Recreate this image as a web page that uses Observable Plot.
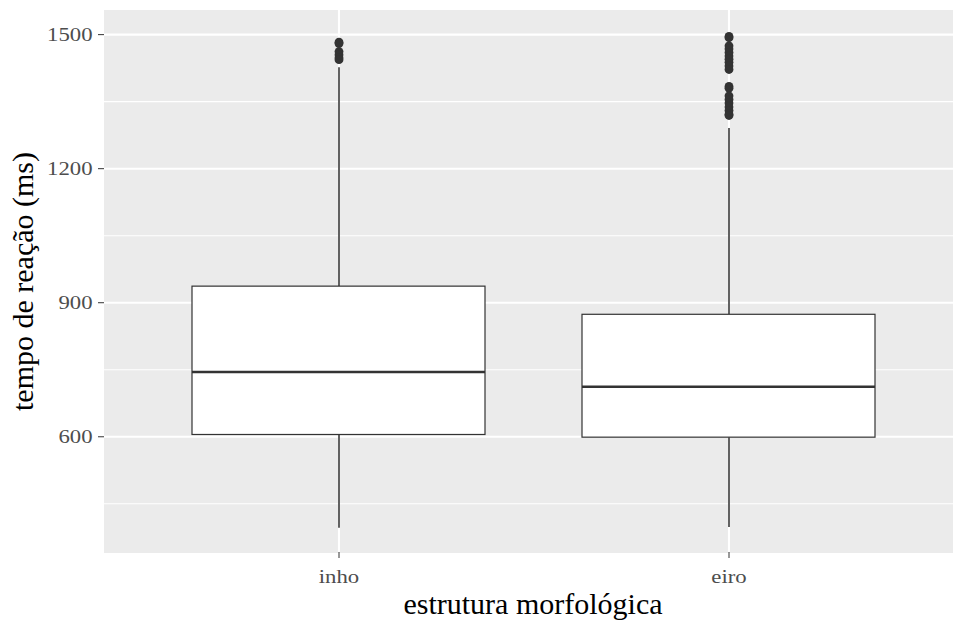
<!DOCTYPE html>
<html>
<head>
<meta charset="utf-8">
<script src="https://cdn.jsdelivr.net/npm/d3@7"></script>
<script src="https://cdn.jsdelivr.net/npm/@observablehq/plot@0.6"></script>
<style>
  html, body { margin: 0; padding: 0; background: white; }
</style>
</head>
<body>
<div id="chart"></div>
<script>
// ---- data ----
const categories = ["inho", "eiro"];
const q1 = [604, 598];
const medians = [745, 712];
const q3 = [936, 873];
const whiskerLow = [395, 397];
const whiskerHigh = [1426, 1290];
const outliersInho = [1483, 1480, 1462, 1455, 1448, 1444];
const outliersEiro = [1496, 1493, 1475, 1468, 1460, 1452, 1445, 1438, 1430, 1422,
                      1384, 1380, 1363, 1355, 1347, 1338, 1330, 1322, 1319];
const majorTicks = [600, 900, 1200, 1500];
const minorTicks = [450, 750, 1050, 1350];
const yDomain = [341, 1554];
const xTitle = "estrutura morfológica";
const yTitle = "tempo de reação (ms)";

// ---- tables built from the arrays ----
const stats = categories.map((c, i) => ({
  cat: c, q1: q1[i], median: medians[i], q3: q3[i], lo: whiskerLow[i], hi: whiskerHigh[i]
}));
const outliers = [
  ...outliersInho.map(v => ({cat: "inho", v})),
  ...outliersEiro.map(v => ({cat: "eiro", v}))
];

const FONT = "'Liberation Serif', 'Times New Roman', serif";
const dark = "#333333";

const chart = Plot.plot({
  width: 953,
  height: 621,
  marginLeft: 104,
  marginRight: 0,
  marginTop: 10,
  marginBottom: 69,
  style: {fontFamily: FONT, background: "white"},
  x: {type: "band", domain: categories, range: [104, 963.4], paddingInner: 0.25, paddingOuter: 0.225, axis: null},
  y: {domain: yDomain, axis: null},
  marks: [
    Plot.frame({fill: "#ebebeb", stroke: "#ebebeb"}),
    Plot.ruleY(minorTicks, {stroke: "white", strokeWidth: 1.1}),
    Plot.ruleY(majorTicks, {stroke: "white", strokeWidth: 2.1}),
    Plot.ruleX(categories, {stroke: "white", strokeWidth: 2.1}),
    Plot.ruleX(stats, {x: "cat", y1: "lo", y2: "q1", stroke: "#3a3a3a", strokeWidth: 1.6}),
    Plot.ruleX(stats, {x: "cat", y1: "q3", y2: "hi", stroke: "#3a3a3a", strokeWidth: 1.6}),
    Plot.barY(stats, {x: "cat", y1: "q1", y2: "q3", fill: "white", stroke: dark, strokeWidth: 1.2}),
    Plot.tickY(stats, {x: "cat", y: "median", stroke: dark, strokeWidth: 2.4}),
    Plot.dot(outliers, {x: "cat", y: "v", r: 4.4, fill: dark, stroke: "none"}),
    Plot.axisY(majorTicks, {tickSize: 6, tickPadding: 6, fontSize: 18.5, fill: "#4d4d4d", stroke: dark, label: null, fontFamily: FONT, tickFormat: d => String(d)}),
    Plot.axisX({tickSize: 6, tickPadding: 11, fontSize: 18.5, fill: "#4d4d4d", stroke: dark, label: null, fontFamily: FONT}),
    Plot.text([xTitle], {text: d => d, frameAnchor: "bottom", dy: 61, dx: 4, lineAnchor: "bottom", textAnchor: "middle", fontSize: 30, fill: "black", fontFamily: FONT}),
    Plot.text([yTitle], {text: d => d, frameAnchor: "left", dx: -72, rotate: -90, lineAnchor: "bottom", textAnchor: "middle", fontSize: 30, fill: "black", fontFamily: FONT})
  ]
});

document.getElementById("chart").appendChild(chart);

// widen tick-label glyphs horizontally, as in the reference
function stretch(sel, sx, sy) {
  sel.each(function () {
    const t = d3.select(this);
    let tr = t.attr("transform");
    if (!tr) {
      const x = +t.attr("x") || 0, y = +t.attr("y") || 0;
      t.attr("x", null).attr("y", null);
      tr = `translate(${x},${y})`;
    }
    t.attr("transform", `${tr} scale(${sx},${sy})`);
  });
}
const svg = d3.select(chart);
stretch(svg.selectAll('g[aria-label="y-axis tick label"] text'), 1.23, 1);
stretch(svg.selectAll('g[aria-label="x-axis tick label"] text'), 1.23, 1);
</script>
</body>
</html>
